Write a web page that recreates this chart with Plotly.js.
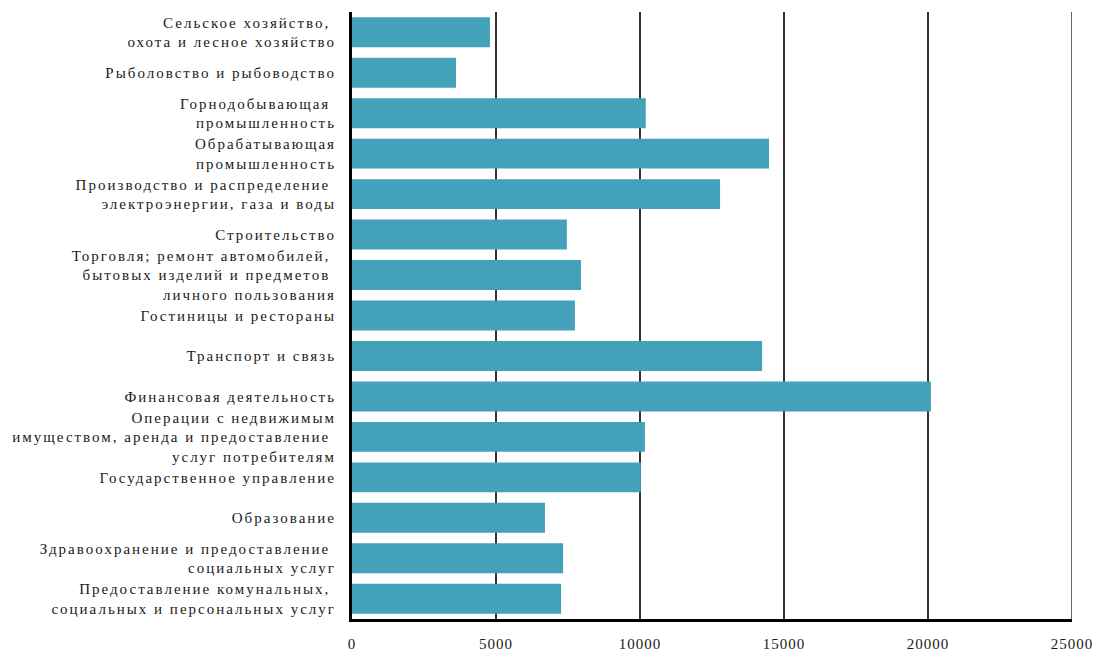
<!DOCTYPE html>
<html>
<head>
<meta charset="utf-8">
<script src="https://cdn.plot.ly/plotly-3.0.1.min.js"></script>
<style>
html,body{margin:0;padding:0;background:#fff;}
#chart{width:1096px;height:652px;}
#chart .ytick text{letter-spacing:2px;}
#chart .xtick text{letter-spacing:1px;}
</style>
</head>
<body>
<div id="chart"></div>
<script>
const categories = [
  "Сельское хозяйство, <br>охота и лесное хозяйство",
  "Рыболовство и рыбоводство",
  "Горнодобывающая <br>промышленность",
  "Обрабатывающая<br>промышленность",
  "Производство и распределение <br>электроэнергии, газа и воды",
  "Строительство",
  "Торговля; ремонт автомобилей, <br>бытовых изделий и предметов <br>личного пользования",
  "Гостиницы и рестораны",
  "Транспорт и связь",
  "Финансовая деятельность",
  "Операции с недвижимым<br>имуществом, аренда и предоставление <br>услуг потребителям",
  "Государственное управление",
  "Образование",
  "Здравоохранение и предоставление <br>социальных услуг",
  "Предоставление комунальных, <br>социальных и персональных услуг"
];
const values = [4790, 3610, 10200, 14480, 12780, 7460, 7950, 7740, 14240, 20100, 10170, 10030, 6700, 7330, 7260];
const xTickVals = [0, 5000, 10000, 15000, 20000, 25000];
const xMax = 25000;

const FONT = 'Liberation Serif, Times New Roman, DejaVu Serif, serif';

const trace = {
  type: 'bar',
  orientation: 'h',
  y: categories,
  x: values,
  marker: {color: '#43a1b9'},
  hoverinfo: 'none'
};

const layout = {
  width: 1096,
  height: 652,
  margin: {l: 352, r: 24, t: 12, b: 33},
  paper_bgcolor: '#fff',
  plot_bgcolor: '#fff',
  bargap: 0.26,
  showlegend: false,
  font: {family: FONT, color: '#1a1a1a', size: 15},
  xaxis: {
    range: [0, xMax],
    tickvals: xTickVals,
    ticktext: xTickVals.map(String),
    showgrid: true,
    gridcolor: '#333',
    gridwidth: 1.5,
    zeroline: false,
    showline: true,
    linecolor: '#000',
    linewidth: 2.5,
    ticks: '',
    ticklabelstandoff: 9,
    tickfont: {family: FONT, size: 15, color: '#1a1a1a'},
    fixedrange: true
  },
  yaxis: {
    autorange: 'reversed',
    showgrid: false,
    zeroline: false,
    showline: true,
    linecolor: '#000',
    linewidth: 3,
    ticks: '',
    ticklabelstandoff: 10,
    tickfont: {family: FONT, size: 15, color: '#1a1a1a'},
    fixedrange: true
  },
  shapes: [{
    type: 'line', xref: 'x', yref: 'paper',
    x0: xMax, x1: xMax, y0: 0, y1: 1,
    line: {color: '#333', width: 1.5},
    layer: 'below'
  }]
};

Plotly.newPlot('chart', [trace], layout, {displayModeBar: false, staticPlot: true});
</script>
</body>
</html>
